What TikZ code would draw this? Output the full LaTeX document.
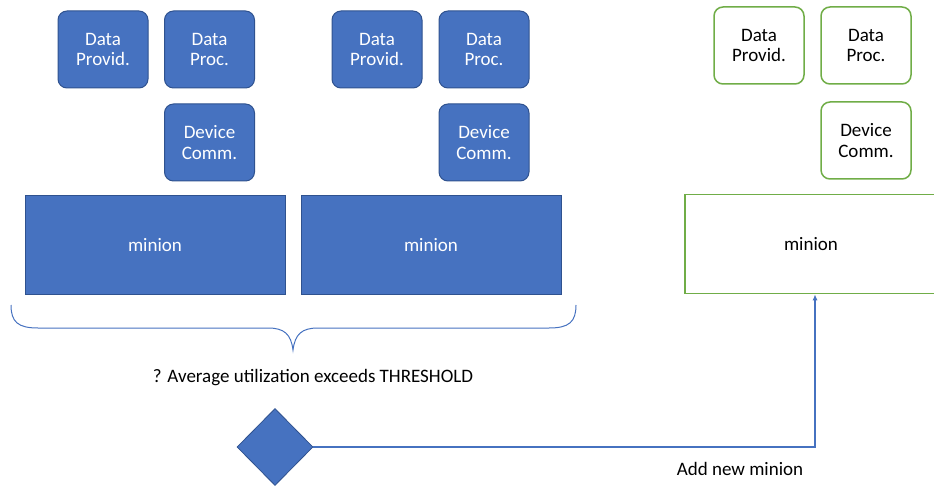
\documentclass[tikz,border=0pt]{standalone}
\usepackage{fontspec}
\setmainfont{Carlito}
\usetikzlibrary{shapes.geometric,arrows.meta}
\definecolor{bfill}{HTML}{4672C0}
\definecolor{bdraw}{HTML}{2F528F}
\definecolor{gdraw}{HTML}{70AD47}
\tikzset{
  svc/.style={rounded corners=9pt, minimum width=90pt, minimum height=77pt,
    align=center, font=\fontsize{19}{20.5}\selectfont, inner sep=0pt},
  bsvc/.style={svc, fill=bfill, draw=bdraw, line width=1pt, text=white},
  gsvc/.style={svc, fill=white, draw=gdraw, line width=1.5pt, text=black},
  host/.style={minimum width=260pt, minimum height=99pt,
    font=\fontsize{19}{21}\selectfont, inner sep=0pt},
  bhost/.style={host, fill=bfill, draw=bdraw, line width=1pt, text=white},
  ghost/.style={host, fill=white, draw=gdraw, line width=1.5pt, text=black},
  conn/.style={draw=bfill, line width=1.3pt},
  lbl/.style={font=\fontsize{19}{21}\selectfont, text=black}
}
\begin{document}
\begin{tikzpicture}[x=1pt,y=-1pt]
\useasboundingbox (0,0) rectangle (934,486);
% first minion group
\node[bsvc] (p1) at (103,49.5) {Data\\Provid.};
\node[bsvc] (q1) at (209.5,49.5) {Data\\Proc.};
\node[bsvc] (c1) at (209.5,142.5) {Device\\Comm.};
\node[bhost] (m1) at (155,245.5) {minion};
% second minion group
\node[bsvc] (p2) at (377,49.5) {Data\\Provid.};
\node[bsvc] (q2) at (484,49.5) {Data\\Proc.};
\node[bsvc] (c2) at (484,142.5) {Device\\Comm.};
\node[bhost] (m2) at (431,245.5) {minion};
% new minion
\node[gsvc] (p3) at (759,45.5) {Data\\Provid.};
\node[gsvc] (q3) at (866,45.5) {Data\\Proc.};
\node[gsvc] (c3) at (866,140.5) {Device\\Comm.};
\node[ghost, minimum width=252pt] (m3) at (811,244) {minion};
% brace under the running minions
\coordinate (bl) at (11,305);
\coordinate (br) at (576,305);
\coordinate (bt) at (293,350);
\draw[conn, line width=1pt] (bl) .. controls (11,322) and (18,328) .. (38,328)
  -- (268,328) .. controls (284,328) and (291,334) .. (bt)
  .. controls (295,334) and (302,328) .. (318,328)
  -- (549,328) .. controls (569,328) and (576,322) .. (br);
\node[lbl] (q) at (313,378) {? Average utilization exceeds THRESHOLD};
% decision and scale-out path
\node[diamond, fill=bfill, draw=bdraw, line width=0.8pt, minimum width=76pt,
  minimum height=77pt, inner sep=0pt] (d) at (275,447) {};
\coordinate (corner) at (815,447);
\draw[conn, -{Latex[length=6pt,width=5pt]}] (d.east) -- (corner) -- (m3.south -| corner);
\node[lbl] (add) at (740,469) {Add new minion};
\end{tikzpicture}
\end{document}
